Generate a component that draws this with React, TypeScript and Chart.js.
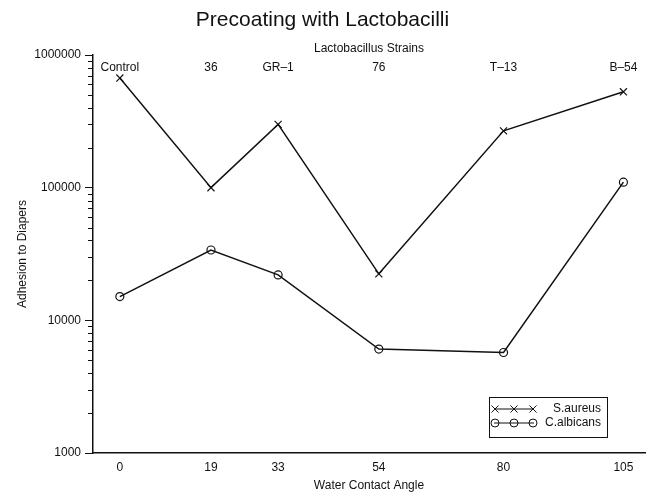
import React, { useEffect, useRef } from "react";
import { Chart, registerables } from "chart.js";

Chart.register(...registerables);

// ---- data ----
const strainLabels = ["Control", "36", "GR–1", "76", "T–13", "B–54"];
const contactAngles = [0, 19, 33, 54, 80, 105];
const sAureus = [670000, 100000, 300000, 22400, 268000, 528000];
const cAlbicans = [15100, 33900, 22000, 6070, 5720, 110000];
const yMajorTicks = [1000, 10000, 100000, 1000000];
const seriesNames = ["S.aureus", "C.albicans"];

const FONT = "'Liberation Sans', Arial, Helvetica, sans-serif";
const INK = "#111";

function drawCross(ctx: CanvasRenderingContext2D, x: number, y: number, r: number) {
  const d = r * Math.SQRT1_2;
  ctx.beginPath();
  ctx.moveTo(x - d, y - d);
  ctx.lineTo(x + d, y + d);
  ctx.moveTo(x + d, y - d);
  ctx.lineTo(x - d, y + d);
  ctx.stroke();
}

function drawCircle(ctx: CanvasRenderingContext2D, x: number, y: number, r: number) {
  ctx.beginPath();
  ctx.arc(x, y, r, 0, Math.PI * 2);
  ctx.stroke();
}

const extrasPlugin = {
  id: "extras",
  afterDraw(chart: any) {
    const { ctx, chartArea, scales } = chart;
    const xs = scales.x;
    const ys = scales.y;
    ctx.save();
    // minor log ticks on the y axis
    ctx.strokeStyle = INK;
    ctx.lineWidth = 1;
    for (let i = 0; i < yMajorTicks.length - 1; i++) {
      for (let m = 2; m <= 9; m++) {
        const py = Math.round(ys.getPixelForValue(yMajorTicks[i] * m)) + 0.5;
        ctx.beginPath();
        ctx.moveTo(chartArea.left - 5, py);
        ctx.lineTo(chartArea.left, py);
        ctx.stroke();
      }
    }
    // top axis: strain labels
    ctx.fillStyle = INK;
    ctx.font = `12px ${FONT}`;
    ctx.textAlign = "center";
    ctx.textBaseline = "middle";
    ctx.fillText("Lactobacillus Strains", (chartArea.left + chartArea.right) / 2, chartArea.top - 6);
    strainLabels.forEach((lab, i) => {
      ctx.fillText(lab, xs.getPixelForValue(contactAngles[i]), chartArea.top + 13);
    });
    // legend box
    const bx = chartArea.right - 156;
    const by = chartArea.bottom - 56;
    const bw = 118;
    const bh = 40;
    ctx.lineWidth = 1;
    ctx.strokeRect(bx + 0.5, by + 0.5, bw, bh);
    const rows = [by + 12, by + 26];
    rows.forEach((ry, k) => {
      ctx.lineWidth = 1;
      ctx.beginPath();
      ctx.moveTo(bx + 5, ry);
      ctx.lineTo(bx + 45, ry);
      ctx.stroke();
      [bx + 6, bx + 25, bx + 44].forEach((mx) => {
        if (k === 0) drawCross(ctx, mx, ry, 5);
        else drawCircle(ctx, mx, ry, 4);
      });
      ctx.textAlign = "right";
      ctx.fillText(seriesNames[k], bx + bw - 6, ry);
    });
    ctx.restore();
  },
};

export default function App() {
  const ref = useRef<HTMLCanvasElement | null>(null);

  useEffect(() => {
    if (!ref.current) return;
    const chart = new Chart(ref.current, {
      type: "line",
      data: {
        datasets: [
          {
            label: seriesNames[0],
            data: contactAngles.map((x, i) => ({ x, y: sAureus[i] })),
            borderColor: INK,
            borderWidth: 1.5,
            pointStyle: "crossRot",
            pointRadius: 5,
            pointBorderWidth: 1.2,
            pointBorderColor: INK,
            pointBackgroundColor: "rgba(0,0,0,0)",
            tension: 0,
          },
          {
            label: seriesNames[1],
            data: contactAngles.map((x, i) => ({ x, y: cAlbicans[i] })),
            borderColor: INK,
            borderWidth: 1.5,
            pointStyle: "circle",
            pointRadius: 4,
            pointBorderWidth: 1.2,
            pointBorderColor: INK,
            pointBackgroundColor: "rgba(0,0,0,0)",
            tension: 0,
          },
        ],
      },
      options: {
        responsive: false,
        animation: false,
        layout: { padding: { left: 0, right: 9, top: 0, bottom: 0 } },
        plugins: {
          legend: { display: false },
          tooltip: { enabled: false },
          title: {
            display: true,
            text: "Precoating with Lactobacilli",
            color: INK,
            font: { family: FONT, size: 21, weight: "normal" },
            padding: { top: 8, bottom: 21.8 },
          },
        },
        scales: {
          x: {
            type: "linear",
            position: "bottom",
            min: -5.6,
            max: 109.5,
            grid: { display: false, drawTicks: false },
            border: { display: true, color: INK, width: 1.5 },
            ticks: {
              color: INK,
              padding: 7,
              font: { family: FONT, size: 12 },
              callback: (v: any) => String(v),
            },
            afterBuildTicks: (s: any) => {
              s.ticks = contactAngles.map((v) => ({ value: v }));
            },
            afterFit: (s: any) => {
              s.height = 40;
            },
            title: {
              display: true,
              text: "Water Contact Angle",
              color: INK,
              font: { family: FONT, size: 12 },
              padding: { top: 0, bottom: 0 },
            },
          },
          y: {
            type: "logarithmic",
            min: 1000,
            max: 1000000,
            grid: {
              drawOnChartArea: false,
              drawTicks: true,
              tickLength: 8,
              tickColor: INK,
              tickWidth: 1,
            },
            border: { display: true, color: INK, width: 1.5 },
            ticks: {
              color: INK,
              padding: 4,
              font: { family: FONT, size: 12 },
              callback: (v: any) => String(v),
            },
            afterBuildTicks: (s: any) => {
              s.ticks = yMajorTicks.map((v) => ({ value: v }));
            },
            afterFit: (s: any) => {
              s.width = 93;
            },
            title: {
              display: true,
              text: "Adhesion to Diapers",
              color: INK,
              font: { family: FONT, size: 12 },
              padding: { top: 15.5, bottom: 0 },
            },
          },
        },
      },
      plugins: [extrasPlugin],
    });
    return () => chart.destroy();
  }, []);

  return (
    <div style={{ position: "fixed", left: 0, top: 0, width: 654, height: 493, background: "#fff" }}>
      <canvas ref={ref} width={654} height={493} style={{ display: "block" }} />
    </div>
  );
}
